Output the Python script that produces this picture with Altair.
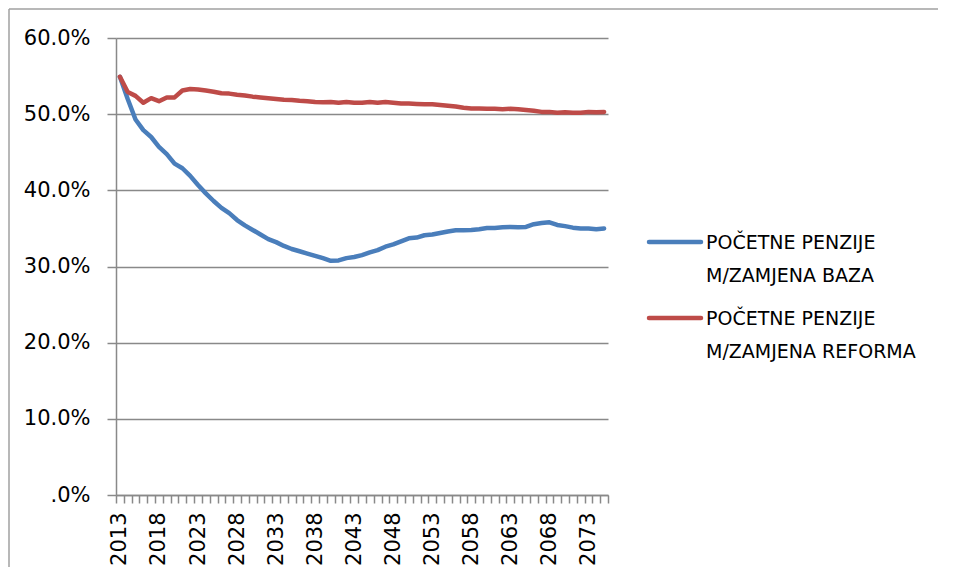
import altair as alt
import pandas as pd

years = list(range(2013, 2076))

baza = [54.9, 52.0, 49.3, 47.9, 47.0, 45.7, 44.75, 43.5, 42.9, 41.9,
        40.7, 39.6, 38.6, 37.7, 37.0, 36.1, 35.4, 34.8, 34.2, 33.6,
        33.2, 32.7, 32.3, 32.0, 31.7, 31.4, 31.1, 30.75, 30.8, 31.1,
        31.25, 31.5, 31.85, 32.15, 32.6, 32.9, 33.3, 33.7, 33.8, 34.1,
        34.2, 34.4, 34.6, 34.75, 34.75, 34.8, 34.9, 35.05, 35.05, 35.15,
        35.2, 35.15, 35.2, 35.55, 35.7, 35.8, 35.45, 35.3, 35.1, 35.0,
        35.0, 34.9, 35.0]

reforma = [54.9, 52.9, 52.4, 51.5, 52.1, 51.7, 52.2, 52.2, 53.1, 53.3,
           53.25, 53.1, 52.95, 52.75, 52.7, 52.55, 52.45, 52.3, 52.2, 52.1,
           52.0, 51.9, 51.85, 51.75, 51.7, 51.6, 51.55, 51.6, 51.5, 51.6,
           51.5, 51.5, 51.6, 51.5, 51.6, 51.5, 51.4, 51.4, 51.35, 51.3,
           51.3, 51.2, 51.1, 51.0, 50.85, 50.75, 50.75, 50.7, 50.7, 50.65,
           50.7, 50.65, 50.55, 50.45, 50.3, 50.3, 50.2, 50.25, 50.2, 50.2,
           50.3, 50.25, 50.3]

series_names = ["POČETNE PENZIJE M/ZAMJENA BAZA", "POČETNE PENZIJE M/ZAMJENA REFORMA"]
legend_lines = [["POČETNE PENZIJE", "M/ZAMJENA BAZA"],
                ["POČETNE PENZIJE", "M/ZAMJENA REFORMA"]]
colors = ["#4A7EBB", "#BE4B48"]
y_ticks = [0, 10, 20, 30, 40, 50, 60]

df = pd.concat([
    pd.DataFrame({"year": years, "value": baza, "series": series_names[0]}),
    pd.DataFrame({"year": years, "value": reforma, "series": series_names[1]}),
])

FONT = "DejaVu Sans"
GRAY = "#898989"

lines = alt.Chart(df).mark_line(strokeWidth=4.5, strokeJoin="round", strokeCap="round").encode(
    x=alt.X("year:O",
            scale=alt.Scale(type="band", paddingInner=0, paddingOuter=0),
            bandPosition=0.5,
            axis=alt.Axis(title=None, tickBand="extent", labelAngle=-90,
                          labelExpr="(datum.value - 2013) % 5 == 0 ? datum.label : ''",
                          labelOverlap=False, labelFont=FONT, labelFontSize=21,
                          labelColor="#000000", labelPadding=9, tickSize=8,
                          tickColor=GRAY, domainColor=GRAY, tickWidth=1.5,
                          domainWidth=1.5, grid=False)),
    y=alt.Y("value:Q",
            scale=alt.Scale(domain=[0, 60], nice=False, zero=True),
            axis=alt.Axis(title=None, values=y_ticks,
                          labelExpr="datum.value == 0 ? '.0%' : format(datum.value, '.1f') + '%'",
                          labelFont=FONT, labelFontSize=21, labelColor="#000000",
                          labelPadding=17, tickSize=9, tickColor=GRAY, tickWidth=1.5,
                          domainColor=GRAY, domainWidth=1.5, grid=True,
                          gridColor=GRAY, gridWidth=1.5)),
    color=alt.Color("series:N", scale=alt.Scale(domain=series_names, range=colors), legend=None),
    order=alt.Order("series:N"),
)

layers = [lines]

legend_y = [204, 280]
for i in range(2):
    one = pd.DataFrame({"series": [series_names[i]]})
    layers.append(alt.Chart(one).mark_rule(strokeWidth=4.5, strokeCap="round", color=colors[i]).encode(
        x=alt.value(533), x2=alt.value(585), y=alt.value(legend_y[i])))
    for j in range(2):
        layers.append(alt.Chart(one).mark_text(align="left", baseline="middle", font=FONT,
                                               fontSize=19, color="#000000").encode(
            x=alt.value(590), y=alt.value(legend_y[i] + 1 + 33 * j),
            text=alt.value(legend_lines[i][j])))

frame = pd.DataFrame({"series": ["frame"]})
layers.append(alt.Chart(frame).mark_rule(color="#A0A0A0", strokeWidth=1.5).encode(
    x=alt.value(-107), y=alt.value(-29), y2=alt.value(540)))
layers.append(alt.Chart(frame).mark_rule(color="#A0A0A0", strokeWidth=1.5).encode(
    x=alt.value(-107), x2=alt.value(830), y=alt.value(-29)))

chart = alt.layer(*layers).properties(
    width=492, height=457,
    padding={"left": 108, "top": 30, "right": 330, "bottom": 72},
    autosize=alt.AutoSizeParams(type="none"),
).configure_view(stroke=None)

chart.save("out.html", embed_options={"renderer": "svg", "actions": False})
